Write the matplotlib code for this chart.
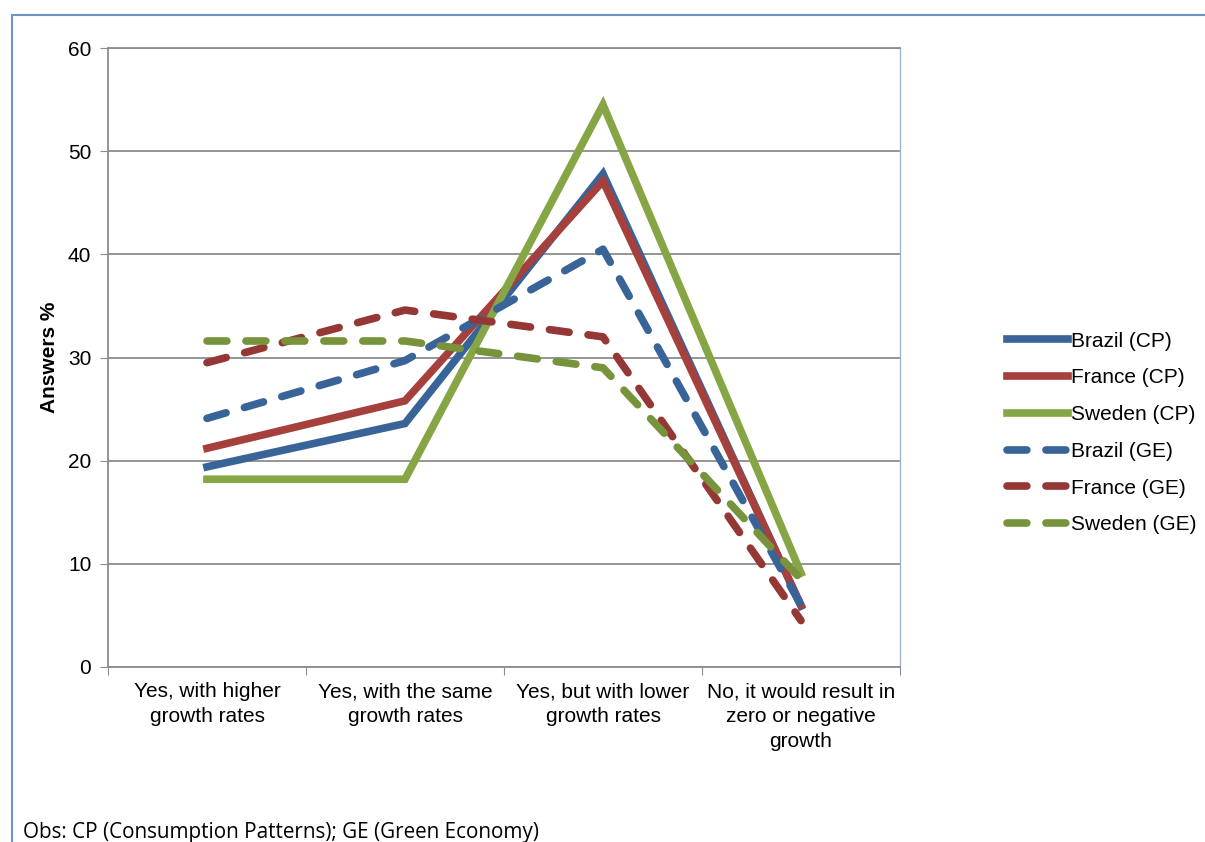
import matplotlib.pyplot as plt
from matplotlib.patches import Rectangle

# Answers (%) per category for each country and question
categories = ["Yes, with higher\ngrowth rates", "Yes, with the same\ngrowth rates",
              "Yes, but with lower\ngrowth rates", "No, it would result in\nzero or negative\ngrowth"]
brazil_cp = [19.4, 23.6, 47.8, 5.9]
france_cp = [21.2, 25.8, 47.1, 6.0]
sweden_cp = [18.2, 18.2, 54.5, 9.1]
brazil_ge = [24.1, 29.7, 40.5, 6.0]
france_ge = [29.5, 34.6, 32.0, 4.5]
sweden_ge = [31.6, 31.6, 29.0, 8.5]

blue = "#386497"
red = "#a5403d"
green = "#86a545"
red_d = "#953735"
green_d = "#77933c"

series = [
    ("Brazil (CP)", brazil_cp, blue, "-"),
    ("France (CP)", france_cp, red, "-"),
    ("Sweden (CP)", sweden_cp, green, "-"),
    ("Brazil (GE)", brazil_ge, blue, "--"),
    ("France (GE)", france_ge, red_d, "--"),
    ("Sweden (GE)", sweden_ge, green_d, "--"),
]

plt.rcParams['font.family'] = ['Liberation Sans', 'DejaVu Sans']

fig = plt.figure(figsize=(12.05, 8.42), dpi=100)
ax = fig.add_axes([108 / 1205, 1 - 667 / 842, 792 / 1205, 619 / 842])

x = range(len(categories))
for name, vals, col, ls in series:
    if ls == "-":
        ax.plot(x, vals, color=col, lw=5.5, label=name, solid_joinstyle="miter")
    else:
        ax.plot(x, vals, color=col, lw=5.5, label=name, linestyle=(0, (2.6, 2.5)),
                dash_capstyle="round")

ax.set_xlim(-0.5, 3.5)
ax.set_ylim(0, 60)
ax.set_yticks(range(0, 61, 10))
ax.yaxis.grid(True, color="#8c8c8c", lw=1.3)
ax.set_axisbelow(True)
ax.set_xticks([i - 0.5 for i in range(5)], minor=False)
ax.set_xticklabels([])
ax.set_xticks(list(x), minor=True)
ax.set_xticklabels(categories, minor=True, fontsize=15, linespacing=1.38)
ax.tick_params(axis="x", which="minor", length=0, pad=11)
ax.tick_params(axis="x", which="major", length=6, color="#8c8c8c")
ax.tick_params(axis="y", length=6, color="#8c8c8c", labelsize=15, pad=6)
for s in ["left", "bottom", "top"]:
    ax.spines[s].set_color("#8c8c8c")
    ax.spines[s].set_linewidth(1.3)
ax.spines["right"].set_color("#9fb6d0")
ax.spines["right"].set_linewidth(1.0)

ax.set_ylabel("Answers %", fontsize=15, fontweight="bold", labelpad=6.5)

ax.legend(loc="center left", bbox_to_anchor=(1.112, 0.378), frameon=False,
          fontsize=15, handlelength=2.9, handletextpad=0.15, labelspacing=0.85)

# outer chart border
fig.patches.append(Rectangle((12 / 1205, -0.1), 1.2, 1 - 15 / 842 + 0.1,
                             transform=fig.transFigure, fill=False,
                             edgecolor="#6f95c4", lw=1.5))

fig.text(23 / 1205, -1 / 842, "Obs: CP (Consumption Patterns); GE (Green Economy)",
         fontsize=14.9, family=["Open Sans", "DejaVu Sans"], va="bottom")

fig.savefig("out.png", dpi=100)
